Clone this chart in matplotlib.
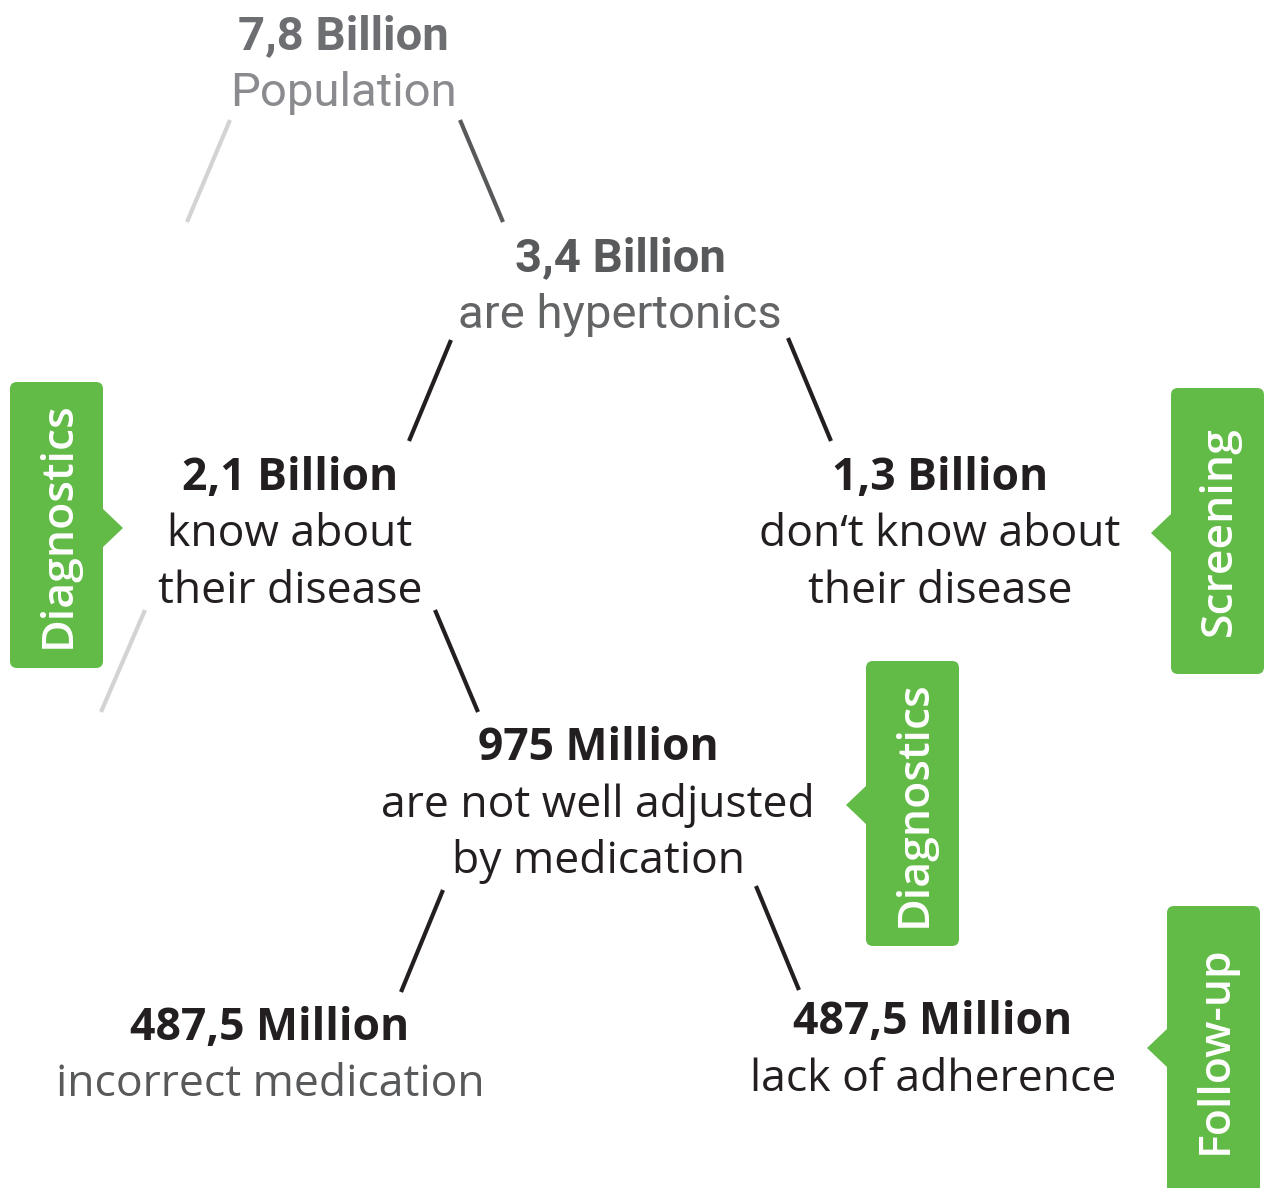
import matplotlib
matplotlib.use("Agg")
import matplotlib.pyplot as plt
from matplotlib.patches import FancyBboxPatch, Polygon

# ---- data ----
values = ["7,8 Billion", "3,4 Billion", "2,1 Billion", "1,3 Billion",
          "975 Million", "487,5 Million", "487,5 Million"]
captions = [["Population"],
            ["are hypertonics"],
            ["know about", "their disease"],
            ["don\u2018t know about", "their disease"],
            ["are not well adjusted", "by medication"],
            ["incorrect medication"],
            ["lack of adherence"]]
tags = ["Diagnostics", "Screening", "Diagnostics", "Follow-up"]

# ---- layout (pixel coords, y down) ----
node_xy = [(343, 36), (620, 258), (290, 478), (940, 478),
           (598, 748), (270, 1028), (933, 1023)]
value_col = ["#6d6e71", "#58595b", "#231f20", "#231f20",
             "#231f20", "#231f20", "#231f20"]
cap_col = ["#8a8b8e", "#636466", "#231f20", "#231f20",
           "#231f20", "#58595b", "#231f20"]
line_gap = 57

links = [((230, 120), (187, 222), "#d3d3d3"),
         ((460, 120), (503, 222), "#58595b"),
         ((451, 340), (409, 441), "#231f20"),
         ((788, 338), (831, 441), "#231f20"),
         ((145, 610), (101, 712), "#d3d3d3"),
         ((435, 610), (478, 712), "#231f20"),
         ((443, 890), (401, 992), "#231f20"),
         ((756, 886), (799, 990), "#231f20")]

# tag boxes: x0, y0, x1, y1, arrow side, arrow tip y, text centre y
tag_box = [(10, 382, 103, 668, "right", 528, 525),
           (1171, 388, 1264, 674, "left", 533, 531),
           (866, 661, 959, 946, "left", 805, 804),
           (1167, 906, 1260, 1200, "left", 1048, 1050)]
green = "#62bb47"

fig = plt.figure(figsize=(12.66, 11.88), dpi=100)
ax = fig.add_axes([0, 0, 1, 1])
ax.set_xlim(0, 1266)
ax.set_ylim(1188, 0)
ax.axis("off")

top_font = ["Roboto", "DejaVu Sans"]
low_font = ["Open Sans", "DejaVu Sans"]

for i, (x, y) in enumerate(node_xy):
    fam = top_font if i < 2 else low_font
    fs = 34 if i < 2 else 32
    ax.text(x, y, values[i], ha="center", va="center", fontsize=fs,
            fontweight="bold", color=value_col[i], family=fam)
    for k, c in enumerate(captions[i]):
        ax.text(x, y + line_gap * (k + 1), c, ha="center", va="center",
                fontsize=fs, color=cap_col[i], family=fam)

for (x0, y0), (x1, y1), col in links:
    ax.plot([x0, x1], [y0, y1], color=col, lw=3, solid_capstyle="butt")

for (x0, y0, x1, y1, side, ty, cy), label in zip(tag_box, tags):
    box = FancyBboxPatch((x0, y0), x1 - x0, y1 - y0,
                         boxstyle="round,pad=0,rounding_size=7",
                         fc=green, ec="none")
    ax.add_patch(box)
    if side == "right":
        tri = [(x1 - 1, ty - 20), (x1 + 20, ty), (x1 - 1, ty + 20)]
    else:
        tri = [(x0 + 1, ty - 20), (x0 - 20, ty), (x0 + 1, ty + 20)]
    ax.add_patch(Polygon(tri, closed=True, fc=green, ec="none"))
    ax.text((x0 + x1) / 2 + 2, cy, label, rotation=90, ha="center",
            va="center", fontsize=32, fontweight="semibold", color="white",
            family=low_font)

fig.savefig("out.png", dpi=100)
